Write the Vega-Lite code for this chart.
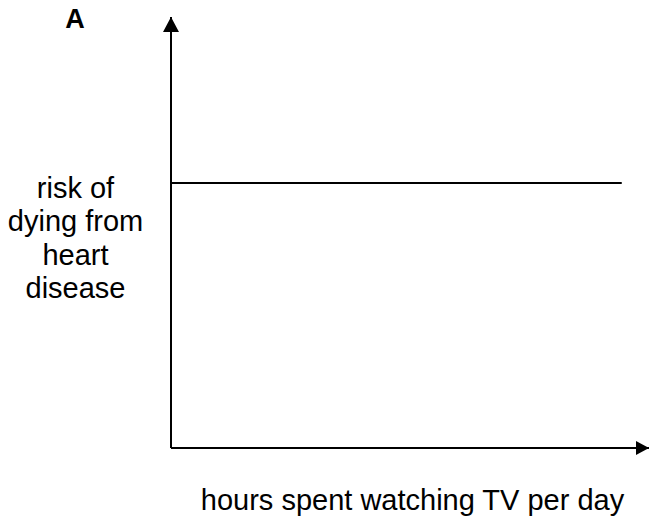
{
  "$schema": "https://vega.github.io/schema/vega-lite/v6.json",
  "width": 478,
  "height": 431,
  "autosize": {"type": "none"},
  "padding": {"left": 171, "top": 17, "right": 2, "bottom": 74},
  "background": "white",
  "config": {
    "view": {"stroke": null},
    "font": "Liberation Sans"
  },
  "title": {
    "text": "A",
    "anchor": "start",
    "frame": "group",
    "align": "center",
    "baseline": "alphabetic",
    "dx": -96,
    "dy": 39,
    "offset": 0,
    "fontSize": 27,
    "fontWeight": "bold",
    "font": "Liberation Sans",
    "color": "black"
  },
  "datasets": {
    "axes": [
      {"hours": 0, "risk": 0, "hours_end": 0, "risk_end": 10},
      {"hours": 0, "risk": 0, "hours_end": 10, "risk_end": 0}
    ],
    "series": [
      {"hours": 0, "risk": 6.15},
      {"hours": 9.43, "risk": 6.15}
    ],
    "arrows": [
      {"hours": 0, "risk": 10, "dir": "up"},
      {"hours": 10, "risk": 0, "dir": "right"}
    ]
  },
  "encoding": {
    "x": {
      "field": "hours",
      "type": "quantitative",
      "scale": {"domain": [0, 10], "nice": false, "zero": false},
      "axis": {
        "domain": false, "ticks": false, "labels": false, "grid": false,
        "title": "hours spent watching TV per day",
        "titleFont": "Liberation Sans",
        "titleFontSize": 29,
        "titleFontWeight": "normal",
        "titleColor": "black",
        "titleAlign": "center",
        "titleBaseline": "alphabetic",
        "titleX": 241,
        "titleY": 61
      }
    },
    "y": {
      "field": "risk",
      "type": "quantitative",
      "scale": {"domain": [0, 10], "nice": false, "zero": false},
      "axis": {
        "domain": false, "ticks": false, "labels": false, "grid": false,
        "title": ["risk of", "dying from", "heart", "disease"],
        "titleFont": "Liberation Sans",
        "titleFontSize": 29,
        "titleFontWeight": "normal",
        "titleColor": "black",
        "titleAngle": 0,
        "titleAlign": "center",
        "titleBaseline": "alphabetic",
        "titleLineHeight": 33.5,
        "titleX": -96,
        "titleY": 180
      }
    }
  },
  "layer": [
    {
      "data": {"name": "axes"},
      "mark": {"type": "rule", "color": "black", "strokeWidth": 2},
      "encoding": {
        "x2": {"field": "hours_end"},
        "y2": {"field": "risk_end"}
      }
    },
    {
      "data": {"name": "series"},
      "mark": {"type": "line", "color": "black", "strokeWidth": 2},
      "encoding": {}
    },
    {
      "data": {"name": "arrows"},
      "mark": {"type": "point", "filled": true, "color": "black", "opacity": 1, "size": 256, "strokeWidth": 0},
      "encoding": {
        "shape": {
          "field": "dir",
          "type": "nominal",
          "scale": {"domain": ["up", "right"], "range": ["M0,0L-1,1.875L1,1.875Z", "M0,0L-1.625,-0.875L-1.625,0.875Z"]},
          "legend": null
        }
      }
    }
  ]
}
